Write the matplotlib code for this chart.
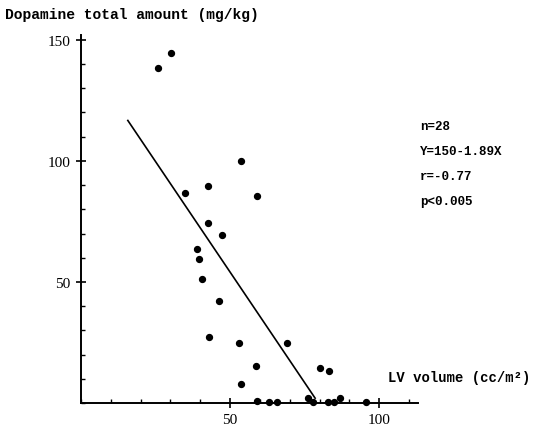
import numpy as np
import matplotlib.pyplot as plt
from matplotlib.ticker import MultipleLocator

# LV volume (cc/m^2) vs dopamine total amount (mg/kg), n=28
lv_volume = [25.7, 30.1, 53.7, 34.9, 42.5, 59.0, 42.6, 47.2, 38.9, 39.6,
             40.5, 46.4, 43.0, 52.9, 58.6, 53.6, 69.0, 80.2, 83.2, 59.0,
             62.9, 65.7, 76.0, 77.8, 82.8, 85.0, 87.0, 95.6]
dopamine = [138.3, 144.5, 99.9, 86.8, 89.5, 85.5, 74.5, 69.3, 63.6, 59.5,
            51.2, 42.0, 27.4, 24.8, 15.4, 7.7, 24.8, 14.6, 13.2, 1.0,
            0.5, 0.5, 2.0, 0.5, 0.5, 0.5, 2.0, 0.5]

# regression line as drawn in the figure (end points)
fit_x = [15.7, 78.5]
fit_y = [116.7, 2.0]

stats_lines = ['n=28', 'Y=150-1.89X', 'r=-0.77', 'p<0.005']

mono = 'Liberation Mono'
serif = 'Liberation Serif'

fig = plt.figure(figsize=(5.4, 4.31), dpi=100)
ax = fig.add_axes([81 / 540, 27 / 431, 337 / 540, 368 / 431])

ax.scatter(lv_volume, dopamine, s=18, color='black', zorder=3, clip_on=False)
ax.plot(fit_x, fit_y, color='black', lw=1.2)

ax.set_xlim(0, 113)
ax.set_ylim(0, 152)
for s in ['top', 'right']:
    ax.spines[s].set_visible(False)
for s in ['left', 'bottom']:
    ax.spines[s].set_linewidth(1.4)

ax.xaxis.set_minor_locator(MultipleLocator(10))
ax.yaxis.set_minor_locator(MultipleLocator(10))
ax.set_xticks([50, 100])
ax.set_yticks([50, 100, 150])
ax.tick_params(axis='both', which='major', direction='inout', length=7, width=1.2, pad=4)
ax.tick_params(axis='both', which='minor', direction='in', length=3, width=1)
for lab in ax.get_xticklabels() + ax.get_yticklabels():
    lab.set_fontfamily(serif)
    lab.set_fontsize(11)

fig.text(5 / 540, 1 - 15 / 431, 'Dopamine total amount (mg/kg)', family=mono,
         weight='bold', fontsize=10.5, va='center', ha='left')
fig.text(388 / 540, 1 - 378 / 431, 'LV volume (cc/m\u00b2)', family=mono,
         weight='bold', fontsize=10, va='center', ha='left')

for i, line in enumerate(stats_lines):
    fig.text(420 / 540, 1 - (127 + 25 * i) / 431, line, family=mono,
             weight='bold', fontsize=9, va='center', ha='left')

fig.savefig('out.png', dpi=100, facecolor='white')
